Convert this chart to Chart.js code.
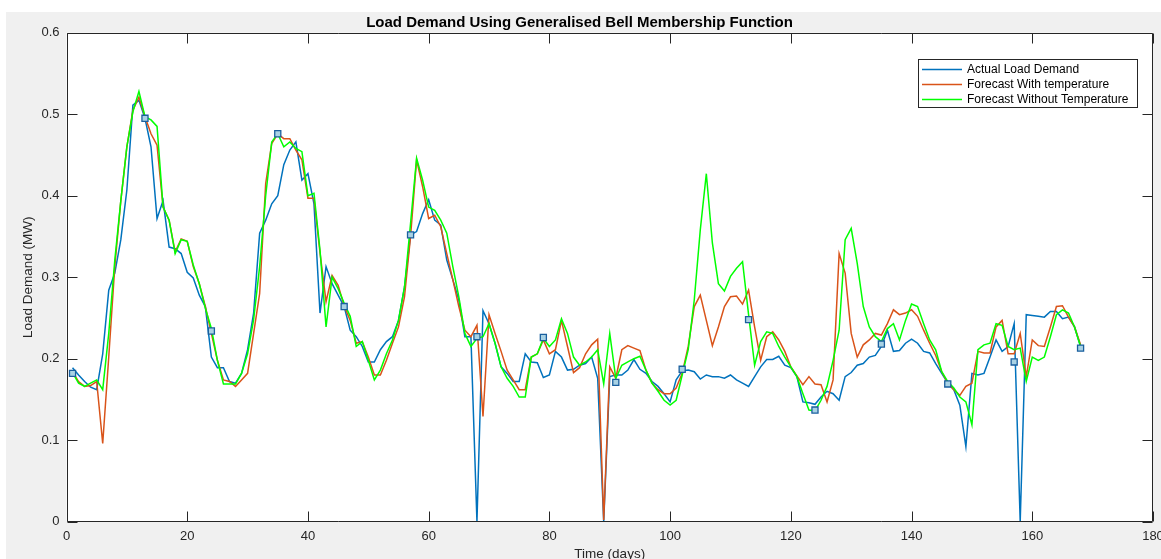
<!DOCTYPE html>
<html><head><meta charset="utf-8">
<script src="https://cdn.jsdelivr.net/npm/chart.js@4/dist/chart.umd.min.js"></script>
<style>html,body{margin:0;padding:0;background:#fff;overflow:hidden}#wrap{width:1161px;height:559px;position:relative}</style>
</head><body><div id="wrap"><canvas id="c" width="1161" height="559"></canvas></div>
<script>
const titleText = 'Load Demand Using Generalised Bell Membership Function';
const xLabel = 'Time (days)';
const yLabel = 'Load Demand (MW)';
const seriesNames = ['Actual Load Demand', 'Forecast With temperature', 'Forecast Without Temperature'];
const days = Array.from({length: 168}, (_, i) => i + 1);
const xTicks = [0, 20, 40, 60, 80, 100, 120, 140, 160, 180];
const yTicks = [0, 0.1, 0.2, 0.3, 0.4, 0.5, 0.6];

const actualLoad = [
0.189,0.180,0.172,0.165,0.162,0.206,0.284,0.305,0.346,0.407,
0.511,0.517,0.495,0.460,0.372,0.394,0.337,0.335,0.329,0.306,
0.299,0.278,0.264,0.202,0.189,0.189,0.172,0.170,0.182,0.211,
0.256,0.354,0.370,0.390,0.400,0.438,0.456,0.466,0.419,0.427,
0.390,0.256,0.313,0.292,0.278,0.264,0.235,0.227,0.215,0.196,
0.196,0.211,0.221,0.227,0.247,0.288,0.352,0.356,0.378,0.395,
0.370,0.364,0.321,0.297,0.272,0.227,0.227,0.000,0.259,0.243,
0.219,0.190,0.182,0.172,0.172,0.206,0.196,0.195,0.177,0.180,
0.209,0.202,0.186,0.187,0.192,0.194,0.202,0.176,0.000,0.178,
0.180,0.180,0.186,0.199,0.187,0.182,0.172,0.166,0.157,0.147,
0.174,0.185,0.186,0.184,0.175,0.180,0.178,0.178,0.176,0.180,
0.174,0.170,0.166,0.178,0.190,0.199,0.199,0.203,0.192,0.189,
0.178,0.147,0.146,0.144,0.153,0.160,0.157,0.149,0.178,0.183,
0.192,0.194,0.202,0.204,0.215,0.235,0.209,0.210,0.219,0.224,
0.219,0.209,0.207,0.194,0.182,0.170,0.162,0.143,0.092,0.182,
0.180,0.182,0.202,0.223,0.209,0.215,0.243,0.000,0.254,0.253,
0.252,0.251,0.258,0.258,0.249,0.251,0.239,0.215];

const forecastWithTemp = [
0.184,0.172,0.166,0.167,0.172,0.096,0.202,0.313,0.394,0.460,
0.505,0.521,0.497,0.476,0.462,0.386,0.370,0.331,0.347,0.344,
0.313,0.292,0.264,0.231,0.198,0.174,0.172,0.166,0.174,0.182,
0.231,0.280,0.415,0.464,0.476,0.470,0.470,0.456,0.444,0.397,
0.397,0.330,0.270,0.302,0.290,0.265,0.247,0.219,0.221,0.202,
0.180,0.180,0.198,0.219,0.239,0.276,0.350,0.444,0.411,0.372,
0.376,0.362,0.329,0.297,0.264,0.235,0.227,0.241,0.129,0.254,
0.231,0.209,0.186,0.174,0.162,0.162,0.202,0.206,0.223,0.206,
0.211,0.247,0.215,0.183,0.189,0.206,0.217,0.224,0.002,0.190,
0.176,0.211,0.216,0.213,0.210,0.186,0.170,0.162,0.157,0.157,
0.164,0.182,0.215,0.264,0.278,0.247,0.216,0.239,0.264,0.276,
0.277,0.267,0.284,0.239,0.198,0.227,0.233,0.223,0.209,0.190,
0.179,0.168,0.178,0.169,0.168,0.147,0.174,0.329,0.305,0.231,
0.202,0.217,0.223,0.231,0.229,0.243,0.260,0.254,0.256,0.260,
0.252,0.235,0.219,0.204,0.184,0.170,0.162,0.155,0.166,0.170,
0.209,0.207,0.207,0.239,0.247,0.206,0.206,0.231,0.178,0.223,
0.216,0.215,0.239,0.264,0.265,0.251,0.239,0.217];

const forecastWithoutTemp = [
0.183,0.170,0.166,0.170,0.174,0.162,0.231,0.321,0.394,0.460,
0.503,0.528,0.497,0.493,0.485,0.386,0.370,0.329,0.346,0.344,
0.315,0.292,0.262,0.237,0.198,0.169,0.169,0.169,0.182,0.206,
0.248,0.313,0.400,0.466,0.476,0.460,0.466,0.458,0.454,0.400,
0.403,0.333,0.239,0.300,0.286,0.268,0.252,0.215,0.221,0.198,
0.174,0.186,0.206,0.223,0.247,0.288,0.366,0.446,0.419,0.386,
0.382,0.370,0.354,0.313,0.276,0.231,0.215,0.225,0.227,0.243,
0.219,0.190,0.176,0.166,0.153,0.153,0.202,0.206,0.225,0.215,
0.223,0.249,0.231,0.202,0.192,0.196,0.202,0.211,0.169,0.231,
0.176,0.192,0.196,0.200,0.203,0.186,0.170,0.160,0.149,0.143,
0.149,0.180,0.211,0.272,0.358,0.427,0.342,0.292,0.283,0.301,
0.311,0.319,0.254,0.192,0.221,0.233,0.231,0.215,0.202,0.190,
0.178,0.157,0.137,0.136,0.149,0.166,0.198,0.235,0.346,0.360,
0.317,0.264,0.239,0.227,0.221,0.237,0.243,0.223,0.247,0.267,
0.264,0.243,0.223,0.211,0.184,0.172,0.164,0.153,0.147,0.119,
0.211,0.217,0.219,0.243,0.241,0.215,0.211,0.213,0.172,0.202,
0.198,0.202,0.227,0.254,0.260,0.256,0.239,0.215];

const markerDays = [1,13,24,35,46,57,68,79,91,102,113,124,135,146,157,168];
const markerValues = [0.182,0.495,0.234,0.476,0.264,0.352,0.227,0.226,0.171,0.187,0.248,0.137,0.218,0.169,0.196,0.213];

const colors = ['#0072BD', '#D95319', '#00FF00'];
const FONT = "'Liberation Sans', Arial, Helvetica, sans-serif";
const AXIS = '#262626';

const toXY = (xs, ys) => xs.map((x, i) => ({x: x, y: ys[i]}));

const bgPlugin = {
  id: 'bg',
  beforeDraw(chart) {
    const ctx = chart.ctx, a = chart.chartArea;
    ctx.save();
    ctx.fillStyle = '#ffffff';
    ctx.fillRect(0, 0, chart.width, chart.height);
    ctx.fillStyle = '#f0f0f0';
    ctx.fillRect(6, 12, chart.width - 6, chart.height - 12);
    ctx.fillStyle = '#ffffff';
    ctx.fillRect(a.left, a.top, a.right - a.left, a.bottom - a.top);
    ctx.restore();
  }
};

const framePlugin = {
  id: 'frame',
  afterDraw(chart) {
    const ctx = chart.ctx, a = chart.chartArea;
    const xs = chart.scales.x, ys = chart.scales.y;
    ctx.save();
    ctx.strokeStyle = AXIS;
    ctx.lineWidth = 1;
    const L = Math.round(a.left) + 0.5, R = Math.round(a.right) - 0.5;
    const T = Math.round(a.top) + 0.5, B = Math.round(a.bottom) - 0.5;
    ctx.beginPath();
    ctx.rect(L, T, R - L, B - T);
    const tl = 10;
    xs.ticks.forEach(t => {
      const px = Math.round(xs.getPixelForValue(t.value)) + 0.5;
      ctx.moveTo(px, B); ctx.lineTo(px, B - tl);
      ctx.moveTo(px, T); ctx.lineTo(px, T + tl);
    });
    ys.ticks.forEach(t => {
      const py = Math.round(ys.getPixelForValue(t.value)) + 0.5;
      ctx.moveTo(L, py); ctx.lineTo(L + tl, py);
      ctx.moveTo(R, py); ctx.lineTo(R - tl, py);
    });
    ctx.stroke();

    // legend
    const lx = 918.5, ly = 59.5, lw = 219, lh = 48;
    ctx.fillStyle = '#ffffff';
    ctx.fillRect(lx, ly, lw, lh);
    ctx.strokeStyle = AXIS;
    ctx.strokeRect(lx, ly, lw, lh);
    ctx.font = '12px ' + FONT;
    ctx.textBaseline = 'middle';
    ctx.textAlign = 'left';
    const rows = [69.5, 84.5, 99.5];
    chart.data.datasets.slice(0, 3).forEach((ds, i) => {
      ctx.strokeStyle = ds.borderColor;
      ctx.lineWidth = 1.5;
      ctx.beginPath();
      ctx.moveTo(922, rows[i]); ctx.lineTo(962, rows[i]);
      ctx.stroke();
      ctx.fillStyle = '#000000';
      ctx.fillText(ds.label, 967, rows[i]);
    });
    ctx.restore();
  }
};

new Chart(document.getElementById('c'), {
  type: 'line',
  data: {
    datasets: [
      {label: seriesNames[0], data: toXY(days, actualLoad), borderColor: colors[0], borderWidth: 1.5, pointRadius: 0, tension: 0, order: 4},
      {label: seriesNames[1], data: toXY(days, forecastWithTemp), borderColor: colors[1], borderWidth: 1.5, pointRadius: 0, tension: 0, order: 3},
      {label: seriesNames[2], data: toXY(days, forecastWithoutTemp), borderColor: colors[2], borderWidth: 1.5, pointRadius: 0, tension: 0, order: 2},
      {label: 'markers', data: toXY(markerDays, markerValues), showLine: false, pointStyle: 'rect', pointRadius: 4.3, pointBorderWidth: 1.3, pointBorderColor: '#1a5f9e', pointBackgroundColor: '#a9d2e4', borderColor: '#1a5f9e', order: 1}
    ]
  },
  options: {
    responsive: false,
    animation: false,
    events: [],
    layout: {autoPadding: false, padding: {left: 6, right: 8, top: 0, bottom: 0}},
    plugins: {
      legend: {display: false},
      tooltip: {enabled: false},
      title: {display: true, text: titleText, color: '#000000', font: {family: FONT, size: 15, weight: 'bold', lineHeight: 1.2}, padding: {top: 13.5, bottom: 1.2}}
    },
    scales: {
      x: {
        type: 'linear', min: 0, max: 180,
        afterFit(s) { s.height = 37.3; s.paddingLeft = 0; s.paddingRight = 0; },
        afterBuildTicks(s) { s.ticks = xTicks.map(v => ({value: v})); },
        grid: {display: false, drawTicks: false},
        border: {display: false},
        ticks: {color: AXIS, padding: 7, maxRotation: 0, font: {family: FONT, size: 13}, callback: v => String(v)},
        title: {display: true, text: xLabel, color: AXIS, font: {family: FONT, size: 13.5}, padding: {top: 0, bottom: -3}}
      },
      y: {
        type: 'linear', min: 0, max: 0.6,
        afterFit(s) { s.width = 60.5; s.paddingTop = 0; s.paddingBottom = 0; },
        afterBuildTicks(s) { s.ticks = yTicks.map(v => ({value: v})); },
        grid: {display: false, drawTicks: false},
        border: {display: false},
        ticks: {color: AXIS, padding: 7, font: {family: FONT, size: 13}, callback: v => String(+(+v).toFixed(1))},
        title: {display: true, text: yLabel, color: AXIS, font: {family: FONT, size: 13.5}, padding: {top: 14, bottom: 0}}
      }
    }
  },
  plugins: [bgPlugin, framePlugin]
});
</script>
</body></html>
